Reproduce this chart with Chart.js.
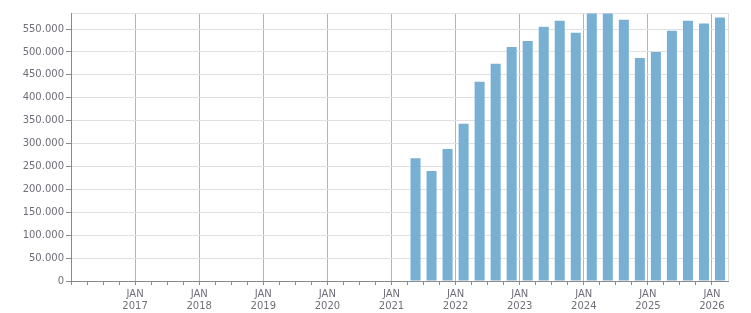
<!DOCTYPE html>
<html>
<head>
<meta charset="utf-8">
<script src="https://cdn.jsdelivr.net/npm/chart.js@4"></script>
<style>
  html, body { margin: 0; padding: 0; background: #fff; }
  #wrap { width: 751px; height: 313px; }
</style>
</head>
<body>
<div id="wrap"><canvas id="myChart"></canvas></div>
<script>
// quarterly values
const quarters = ['2021 Q2', '2021 Q3', '2021 Q4', '2022 Q1', '2022 Q2', '2022 Q3', '2022 Q4',
  '2023 Q1', '2023 Q2', '2023 Q3', '2023 Q4', '2024 Q1', '2024 Q2', '2024 Q3', '2024 Q4',
  '2025 Q1', '2025 Q2', '2025 Q3', '2025 Q4', '2026 Q1'];
const values = [268000, 240000, 288000, 343000, 435000, 474000, 511000,
  524000, 555000, 568000, 542000, 584000, 584000, 570000, 487000,
  500000, 546000, 568000, 562000, 575000];
const yTicks = [0, 50000, 100000, 150000, 200000, 250000, 300000, 350000, 400000, 450000, 500000, 550000];
const startYear = 2016;
const endYear = 2026;   // axis ends at apr of this year
const yMax = 585000;

const textColor = '#6f6f7a';
const axisColor = '#8a8a8a';

// x is counted in quarters from jan of startYear
function qIndex(label) {
  const parts = label.split(' Q');
  return (parseInt(parts[0]) - startYear) * 4 + (parseInt(parts[1]) - 1) + 0.5;
}

const points = quarters.map((q, i) => ({ x: qIndex(q), y: values[i] }));
const xMax = (endYear - startYear) * 4 + 1;

function fmt(v) {
  return String(v).replace(/\B(?=(\d{3})+(?!\d))/g, '.');
}

const ctx = document.getElementById('myChart');

new Chart(ctx, {
  type: 'bar',
  data: {
    datasets: [{
      data: points,
      backgroundColor: '#78b0d3',
      borderWidth: 0,
      barPercentage: 0.625,
      categoryPercentage: 1
    }]
  },
  options: {
    responsive: true,
    maintainAspectRatio: false,
    animation: false,
    layout: { padding: { top: 13, right: 23, left: 0, bottom: 0 } },
    plugins: {
      legend: { display: false },
      tooltip: { enabled: false }
    },
    scales: {
      x: {
        type: 'linear',
        min: 0,
        max: xMax,
        offset: false,
        afterBuildTicks: function (scale) {
          const t = [];
          for (let i = 0; i <= xMax; i++) t.push({ value: i });
          scale.ticks = t;
        },
        afterFit: function (scale) { scale.height = 32; },
        ticks: {
          autoSkip: false,
          maxRotation: 0,
          minRotation: 0,
          padding: 3,
          color: textColor,
          font: { family: 'DejaVu Sans', size: 10 },
          callback: function (v) {
            if (v > 0 && v % 4 === 0) return ['JAN', String(startYear + v / 4)];
            return '';
          }
        },
        grid: {
          offset: false,
          tickLength: 4,
          tickColor: function (c) {
            return (c.tick && c.tick.value === xMax) ? 'transparent' : axisColor;
          },
          color: function (c) {
            if (!c.tick) return 'transparent';
            if (c.tick.value === xMax) return '#dcdcdc';
            return c.tick.value % 4 === 0 ? '#b4b4b4' : 'transparent';
          }
        },
        border: { color: axisColor, width: 1 }
      },
      y: {
        min: 0,
        max: yMax,
        afterBuildTicks: function (scale) {
          scale.ticks = yTicks.concat([yMax]).map(v => ({ value: v }));
        },
        afterFit: function (scale) { scale.width = 71; },
        ticks: {
          padding: 2,
          color: textColor,
          font: { family: 'DejaVu Sans', size: 10 },
          callback: function (v) {
            return yTicks.indexOf(v) >= 0 ? fmt(v) : '';
          }
        },
        grid: {
          tickLength: 5,
          color: '#e0e0e0',
          tickColor: function (c) {
            return (c.tick && c.tick.value === yMax) ? 'transparent' : axisColor;
          }
        },
        border: { color: axisColor, width: 1 }
      }
    }
  }
});
</script>
</body>
</html>
